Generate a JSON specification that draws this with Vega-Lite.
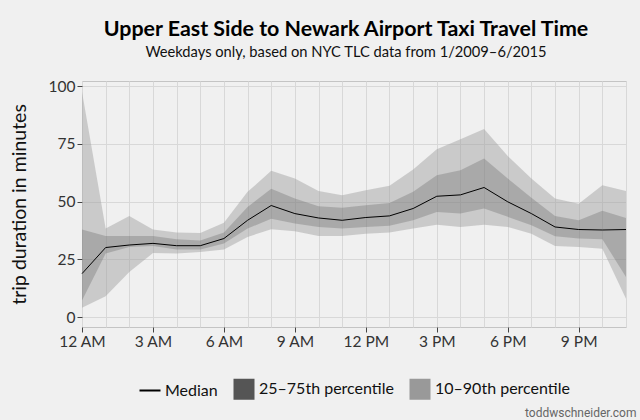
{
  "$schema": "https://vega.github.io/schema/vega-lite/v6.json",
  "width": 544,
  "height": 246,
  "autosize": {"type": "none"},
  "padding": {"left": 82, "top": 81, "right": 14, "bottom": 93},
  "background": "#f0f0f0",
  "config": {
    "font": "Lato",
    "view": {"stroke": "#c4c4c4", "fill": "#f0f0f0"}
  },
  "title": {
    "text": "Upper East Side to Newark Airport Taxi Travel Time",
    "subtitle": "Weekdays only, based on NYC TLC data from 1/2009–6/2015",
    "fontSize": 21.4,
    "fontWeight": "bold",
    "color": "#000000",
    "subtitleFontSize": 14.7,
    "subtitleColor": "#111111",
    "subtitlePadding": 5,
    "anchor": "middle",
    "dx": -8,
    "offset": 19
  },
  "data": {
    "values": [
      {"hour": 0, "p10": 4.0, "p25": 7.2, "median": 18.8, "p75": 37.9, "p90": 97.5},
      {"hour": 1, "p10": 9.0, "p25": 27.5, "median": 30.1, "p75": 35.1, "p90": 38.3},
      {"hour": 2, "p10": 19.5, "p25": 30.3, "median": 31.2, "p75": 35.1, "p90": 43.8},
      {"hour": 3, "p10": 27.7, "p25": 30.8, "median": 31.9, "p75": 35.1, "p90": 37.9},
      {"hour": 4, "p10": 27.5, "p25": 29.3, "median": 30.9, "p75": 33.7, "p90": 36.6},
      {"hour": 5, "p10": 28.2, "p25": 29.3, "median": 30.9, "p75": 33.2, "p90": 36.4},
      {"hour": 6, "p10": 29.3, "p25": 31.8, "median": 34.0, "p75": 36.6, "p90": 40.8},
      {"hour": 7, "p10": 34.7, "p25": 38.3, "median": 41.9, "p75": 47.7, "p90": 54.2},
      {"hour": 8, "p10": 38.0, "p25": 42.6, "median": 48.3, "p75": 55.6, "p90": 63.3},
      {"hour": 9, "p10": 37.1, "p25": 40.5, "median": 44.8, "p75": 51.3, "p90": 60.0},
      {"hour": 10, "p10": 35.1, "p25": 39.0, "median": 42.9, "p75": 48.0, "p90": 54.6},
      {"hour": 11, "p10": 35.1, "p25": 38.3, "median": 41.9, "p75": 47.3, "p90": 52.7},
      {"hour": 12, "p10": 36.1, "p25": 39.0, "median": 43.1, "p75": 48.4, "p90": 54.9},
      {"hour": 13, "p10": 36.6, "p25": 39.5, "median": 43.8, "p75": 49.4, "p90": 56.8},
      {"hour": 14, "p10": 38.3, "p25": 41.9, "median": 47.0, "p75": 54.2, "p90": 63.9},
      {"hour": 15, "p10": 40.0, "p25": 45.5, "median": 52.3, "p75": 61.4, "p90": 72.7},
      {"hour": 16, "p10": 39.0, "p25": 44.8, "median": 52.9, "p75": 63.6, "p90": 77.0},
      {"hour": 17, "p10": 40.0, "p25": 47.0, "median": 56.1, "p75": 68.6, "p90": 81.4},
      {"hour": 18, "p10": 39.0, "p25": 43.4, "median": 49.9, "p75": 60.0, "p90": 69.7},
      {"hour": 19, "p10": 36.1, "p25": 39.7, "median": 44.8, "p75": 51.7, "p90": 60.0},
      {"hour": 20, "p10": 30.8, "p25": 35.0, "median": 39.0, "p75": 43.8, "p90": 51.3},
      {"hour": 21, "p10": 30.3, "p25": 34.0, "median": 37.9, "p75": 41.9, "p90": 49.1},
      {"hour": 22, "p10": 29.6, "p25": 33.7, "median": 37.7, "p75": 46.0, "p90": 57.1},
      {"hour": 23, "p10": 7.9, "p25": 17.3, "median": 37.9, "p75": 42.9, "p90": 54.6}
    ]
  },
  "encoding": {
    "x": {
      "field": "hour",
      "type": "quantitative",
      "scale": {"domain": [0, 23], "nice": false, "zero": false},
      "axis": {
        "values": [0,1,2,3,4,5,6,7,8,9,10,11,12,13,14,15,16,17,18,19,20,21,22,23],
        "labelExpr": "datum.value % 3 === 0 ? (datum.value === 0 ? '12 AM' : datum.value < 12 ? datum.value + ' AM' : datum.value === 12 ? '12 PM' : (datum.value - 12) + ' PM') : ''",
        "labelOverlap": false,
        "labelFlush": false,
        "labelBound": false,
        "labelFontSize": 15.5,
        "labelColor": "#333333",
        "labelPadding": 2,
        "tickSize": 5,
        "tickColor": {"condition": {"test": "datum.value % 3 === 0", "value": "#444444"}, "value": "transparent"},
        "domain": false,
        "grid": true,
        "gridColor": "#d8d8d8",
        "title": "toddwschneider.com",
        "titleFont": "Roboto",
        "titleFontSize": 12,
        "titleFontWeight": "normal",
        "titleColor": "#666666",
        "titleAnchor": "end",
        "titleAlign": "right",
        "titleBaseline": "alphabetic",
        "titleX": 554,
        "titleY": 89
      }
    }
  },
  "layer": [
    {
      "mark": {"type": "area", "opacity": 0.43},
      "encoding": {
        "y": {
          "field": "p10",
          "type": "quantitative",
          "scale": {"domain": [-4.3, 102.2], "nice": false, "zero": false},
          "axis": {
            "values": [0, 12.5, 25, 37.5, 50, 62.5, 75, 87.5, 100],
            "labelExpr": "datum.value % 25 === 0 ? datum.value : ''",
            "labelFontSize": 15.5,
            "labelColor": "#333333",
            "labelPadding": 2,
            "tickSize": 5,
            "tickColor": {"condition": {"test": "datum.value % 25 === 0", "value": "#444444"}, "value": "transparent"},
            "domain": false,
            "grid": true,
            "gridColor": "#d8d8d8",
            "title": "trip duration in minutes",
            "titleFontSize": 19.5,
            "titleFontWeight": "normal",
            "titleColor": "#111111",
            "titlePadding": 19
          }
        },
        "y2": {"field": "p90"},
        "color": {
          "datum": "10–90th percentile",
          "type": "nominal",
          "scale": {
            "domain": ["Median", "25–75th percentile", "10–90th percentile"],
            "range": ["#000000", "#555555", "#999999"]
          },
          "legend": {
            "title": null,
            "orient": "none",
            "direction": "horizontal",
            "legendX": 60,
            "legendY": 300,
            "labelFontSize": 16,
            "labelColor": "#111111",
            "labelOffset": 7,
            "columnPadding": 15,
            "symbolSize": 441,
            "symbolType": "square",
            "symbolOpacity": 1,
            "symbolStrokeWidth": 0,
            "encode": {
              "symbols": {
                "update": {
                  "shape": {"signal": "datum.value === 'Median' ? 'stroke' : 'square'"},
                  "fill": {"signal": "datum.value === 'Median' ? 'transparent' : scale('color', datum.value)"},
                  "stroke": {"signal": "datum.value === 'Median' ? '#000000' : 'transparent'"},
                  "strokeWidth": {"signal": "datum.value === 'Median' ? 2 : 0"},
                  "opacity": {"value": 1},
                  "fillOpacity": {"value": 1}
                }
              }
            }
          }
        }
      }
    },
    {
      "mark": {"type": "area", "opacity": 0.28},
      "encoding": {
        "y": {"field": "p25", "type": "quantitative"},
        "y2": {"field": "p75"},
        "color": {"datum": "25–75th percentile", "type": "nominal", "legend": null}
      }
    },
    {
      "mark": {"type": "line", "strokeWidth": 1},
      "encoding": {
        "y": {"field": "median", "type": "quantitative"},
        "color": {"datum": "Median", "type": "nominal", "legend": null}
      }
    }
  ]
}
